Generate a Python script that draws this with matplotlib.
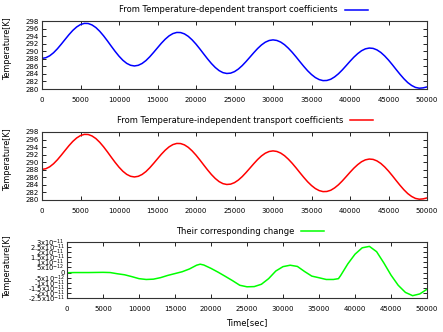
import numpy as np
import matplotlib
matplotlib.use("Agg")
import matplotlib.pyplot as plt
from matplotlib.lines import Line2D

# --- data ---
time = [0, 500, 1000, 1500, 2000, 2500, 3000, 3500, 4000, 4500,
        5000, 5500, 6000, 6500, 7000, 7500, 8000, 8500, 9000, 9500,
        10000, 10500, 11000, 11500, 12000, 12500, 13000, 13500, 14000, 14500,
        15000, 15500, 16000, 16500, 17000, 17500, 18000, 18500, 19000, 19500,
        20000, 20500, 21000, 21500, 22000, 22500, 23000, 23500, 24000, 24500,
        25000, 25500, 26000, 26500, 27000, 27500, 28000, 28500, 29000, 29500,
        30000, 30500, 31000, 31500, 32000, 32500, 33000, 33500, 34000, 34500,
        35000, 35500, 36000, 36500, 37000, 37500, 38000, 38500, 39000, 39500,
        40000, 40500, 41000, 41500, 42000, 42500, 43000, 43500, 44000, 44500,
        45000, 45500, 46000, 46500, 47000, 47500, 48000, 48500, 49000, 49500,
        50000]
temp_dep = [288.1, 288.28, 288.79, 289.6, 290.65, 291.86, 293.13, 294.38, 295.51, 296.42,
            297.06, 297.37, 297.34, 296.95, 296.26, 295.27, 294.07, 292.73, 291.32, 289.95,
            288.69, 287.61, 286.79, 286.28, 286.1, 286.27, 286.76, 287.53, 288.54, 289.7,
            290.91, 292.11, 293.18, 294.06, 294.67, 294.97, 294.94, 294.59, 293.93, 293.0,
            291.88, 290.61, 289.28, 287.97, 286.75, 285.7, 284.87, 284.33, 284.11, 284.2,
            284.6, 285.28, 286.19, 287.27, 288.43, 289.6, 290.71, 291.66, 292.39, 292.84,
            293.0, 292.85, 292.42, 291.72, 290.79, 289.7, 288.49, 287.22, 285.98, 284.82,
            283.83, 283.03, 282.49, 282.22, 282.26, 282.58, 283.2, 284.03, 285.05, 286.18,
            287.33, 288.42, 289.36, 290.13, 290.63, 290.84, 290.75, 290.35, 289.68, 288.76,
            287.66, 286.43, 285.14, 283.88, 282.71, 281.7, 280.94, 280.42, 280.21, 280.3,
            280.55]
# the two runs differ by ~1e-11 K, so they coincide at this scale
temp_indep = list(temp_dep)

time_change = [0, 1000, 2000, 3000, 4000, 5000, 6000, 7000, 8000, 9000,
               10000, 11000, 12000, 13000, 14000, 15000, 16000, 17000, 18000, 18500,
               19000, 20000, 21000, 22000, 23000, 24000, 25000, 26000, 27000, 28000,
               29000, 30000, 31000, 32000, 33000, 34000, 35000, 36000, 37000, 37700,
               38000, 39000, 40000, 41000, 42000, 43000, 44000, 45000, 46000, 47000,
               48000, 49000, 50000]
change = [-0.02, 0.0, 0.0, 0.0, 0.01, 0.02, 0.0, -0.12, -0.22, -0.4,
          -0.6, -0.68, -0.65, -0.5, -0.28, -0.1, 0.08, 0.35, 0.72, 0.82,
          0.74, 0.41, 0.03, -0.38, -0.8, -1.25, -1.4, -1.38, -1.15, -0.6,
          0.15, 0.58, 0.72, 0.6, 0.1, -0.35, -0.51, -0.68, -0.68, -0.6,
          -0.3, 0.85, 1.8, 2.43, 2.57, 2.05, 0.95, -0.25, -1.25, -1.95,
          -2.27, -2.1, -1.64]
change = [c * 1e-11 for c in change]

temp_ticks = [280, 282, 284, 286, 288, 290, 292, 294, 296, 298]
x_ticks = [0, 5000, 10000, 15000, 20000, 25000, 30000, 35000, 40000, 45000, 50000]
change_ticks = [-2.5e-11, -2e-11, -1.5e-11, -1e-11, -5e-12, 0,
                5e-12, 1e-11, 1.5e-11, 2e-11, 2.5e-11, 3e-11]
change_labels = ['-2.5x10$^{-11}$', '-2x10$^{-11}$', '-1.5x10$^{-11}$', '-1x10$^{-11}$',
                 '-5x10$^{-12}$', '0', '5x10$^{-12}$', '1x10$^{-11}$', '1.5x10$^{-11}$',
                 '2x10$^{-11}$', '2.5x10$^{-11}$', '3x10$^{-11}$']

W, H = 443, 332
fig = plt.figure(figsize=(W / 100, H / 100), dpi=100)
fig.patch.set_facecolor('white')


def px_axes(left, top, right, bottom):
    return fig.add_axes([left / W, 1 - bottom / H, (right - left) / W, (bottom - top) / H])


def style(ax, left, ylab_y):
    ax.tick_params(direction='in', top=True, right=True, length=3, width=0.6,
                   labelsize=5, pad=2)
    ax.tick_params(axis='x', pad=5.5)
    for s in ax.spines.values():
        s.set_linewidth(0.8)
        s.set_color('#333333')
    ax.set_xlim(0, 50000)
    ax.set_xticks(x_ticks)
    ax.set_ylabel('Temperature[K]', fontsize=5.8)
    ax.yaxis.label.set_verticalalignment('center')
    width = ax.get_position().width * W
    ax.yaxis.set_label_coords((7.5 - left) / width, ylab_y)


def key(text, x_right, y, color):
    fig.text(x_right / W, 1 - y / H, text, ha='right', va='center', fontsize=6.0)
    fig.add_artist(Line2D([(x_right + 7) / W, (x_right + 30) / W], [1 - y / H, 1 - y / H],
                          color=color, lw=1.1, transform=fig.transFigure))


# panel 1
ax1 = px_axes(42, 21, 427, 89)
ax1.plot(time, temp_dep, color='#0000ff', lw=1.1)
style(ax1, 42, 0.60)
ax1.set_ylim(280, 298)
ax1.set_yticks(temp_ticks)
key('From Temperature-dependent transport coefficients', 338, 10, '#0000ff')

# panel 2
ax2 = px_axes(42, 132, 427, 200)
ax2.plot(time, temp_indep, color='#ff0000', lw=1.1)
style(ax2, 42, 0.60)
ax2.set_ylim(280, 298)
ax2.set_yticks(temp_ticks)
key('From Temperature-independent transport coefficients', 343, 120, '#ff0000')

# panel 3
ax3 = px_axes(67, 242, 427, 298)
ax3.plot(time_change, change, color='#00ff00', lw=1.1)
style(ax3, 67, 0.56)
ax3.set_ylim(-2.5e-11, 3e-11)
ax3.set_yticks(change_ticks)
ax3.set_yticklabels(change_labels)
ax3.tick_params(axis='y', labelsize=4.9, pad=1.5)
ax3.set_xlabel('Time[sec]', fontsize=6, labelpad=4.5)
key('Their corresponding change', 294, 231, '#00ff00')

fig.savefig('out.png', dpi=100, facecolor='white')
